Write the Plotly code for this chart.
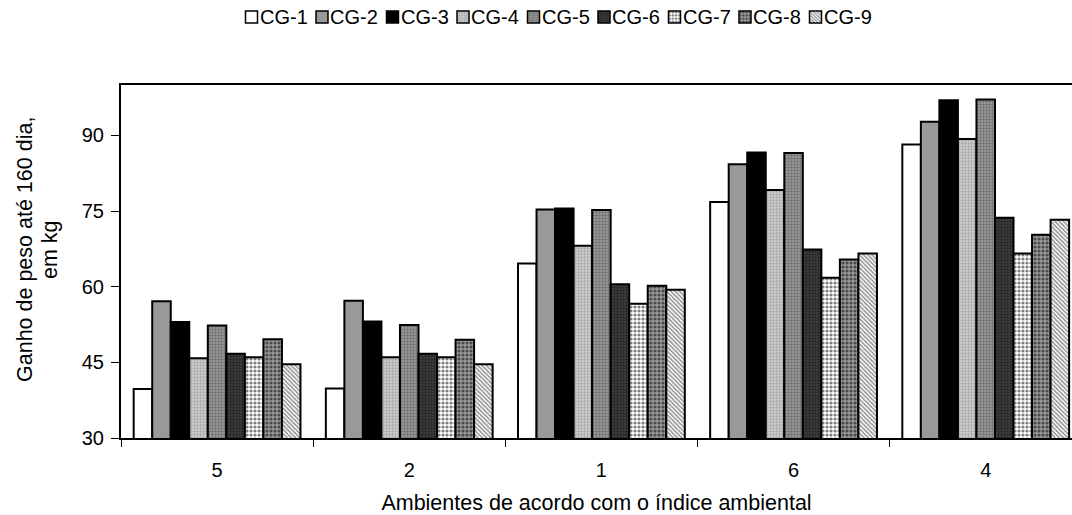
import plotly.graph_objects as go

categories = ["5", "2", "1", "6", "4"]
series_names = ["CG-1", "CG-2", "CG-3", "CG-4", "CG-5", "CG-6", "CG-7", "CG-8", "CG-9"]
cg1 = [39.7, 39.8, 64.6, 76.8, 88.2]
cg2 = [57.1, 57.2, 75.3, 84.3, 92.7]
cg3 = [53.0, 53.1, 75.5, 86.6, 97.0]
cg4 = [45.8, 46.0, 68.1, 79.2, 89.3]
cg5 = [52.3, 52.4, 75.2, 86.5, 97.1]
cg6 = [46.7, 46.7, 60.5, 67.4, 73.7]
cg7 = [46.0, 46.0, 56.6, 61.8, 66.6]
cg8 = [49.6, 49.5, 60.2, 65.4, 70.3]
cg9 = [44.6, 44.6, 59.4, 66.6, 73.3]
values = [cg1, cg2, cg3, cg4, cg5, cg6, cg7, cg8, cg9]
y_ticks = [30, 45, 60, 75, 90]
x_title = "Ambientes de acordo com o índice ambiental"
y_title_lines = ["Ganho de peso até 160 dia,", "em kg"]

styles = [
    dict(color="#ffffff"),
    dict(color="#999999"),
    dict(color="#000000"),
    dict(color="#cccccc", pattern=dict(shape=".", fgcolor="#7a7a7a", bgcolor="#d0d0d0", size=3, solidity=0.45)),
    dict(color="#888888", pattern=dict(shape=".", fgcolor="#404040", bgcolor="#a0a0a0", size=3, solidity=0.5)),
    dict(color="#333333", pattern=dict(shape=".", fgcolor="#0a0a0a", bgcolor="#404040", size=3, solidity=0.5)),
    dict(color="#888888", pattern=dict(shape=".", fgcolor="#000000", bgcolor="#ffffff", size=4, solidity=0.5)),
    dict(color="#555555", pattern=dict(shape=".", fgcolor="#000000", bgcolor="#999999", size=4, solidity=0.5)),
    dict(color="#aaaaaa", pattern=dict(shape="\\", fgcolor="#222222", bgcolor="#ffffff", size=3, solidity=0.5)),
]

# page body margin is removed below, so figure pixels equal window pixels
W, H = 1072, 515
PL, PT, PB = 121, 85, 438
PW, PH = W - PL, PB - PT
legend_symbol_left = 245
legend_pitch = 70.5
legend_text_gap = 13.5
legend_y = 1 + (PT - 17) / PH
FS_TICK, FS_TITLE = 20, 21.5

fig = go.Figure()
for name, vals, st in zip(series_names, values, styles):
    marker = dict(color=st["color"], line=dict(color="#000000", width=2))
    if "pattern" in st:
        marker["pattern"] = st["pattern"]
    fig.add_trace(go.Bar(name=name, x=categories, y=vals, marker=marker, showlegend=False))

# legend swatches (no data) on a hidden axis pair, legend labels as text next to them
annotations = []
for i, (name, st) in enumerate(zip(series_names, styles)):
    marker = dict(color=st["color"], line=dict(color="#000000", width=1.5))
    if "pattern" in st:
        marker["pattern"] = st["pattern"]
    fig.add_trace(go.Bar(name=" ", x=[None], y=[None], marker=marker, xaxis="x2", yaxis="y2",
                         showlegend=True, hoverinfo="skip"))
    tx = legend_symbol_left + legend_pitch * i + legend_text_gap
    annotations.append(dict(text=name, x=(tx - PL) / PW, xref="paper", xanchor="left",
                            y=legend_y, yref="paper", yanchor="middle", showarrow=False,
                            font=dict(size=FS_TICK), borderpad=0))

# y axis title, two lines, rotated
for line, cx in zip(y_title_lines, [25, 50]):
    annotations.append(dict(text=line, textangle=-90, x=(cx - PL) / PW, xref="paper",
                            xanchor="center", y=(PB - 250) / PH, yref="paper", yanchor="middle",
                            showarrow=False, font=dict(size=FS_TITLE)))

fig.update_layout(
    width=W, height=H,
    barmode="group", bargap=0.132, bargroupgap=0,
    plot_bgcolor="white", paper_bgcolor="white",
    font=dict(family="Liberation Sans, Arial, sans-serif", size=FS_TICK, color="#000000"),
    margin=dict(l=PL, r=0, t=PT, b=H - PB, autoexpand=False),
    showlegend=True,
    legend=dict(orientation="h", x=(legend_symbol_left - 13.5) / W, xref="container", xanchor="left",
                y=legend_y, yref="paper", yanchor="middle",
                font=dict(size=1), itemwidth=30, entrywidth=legend_pitch - 45, entrywidthmode="pixels",
                bgcolor="rgba(0,0,0,0)", borderwidth=0),
    annotations=annotations,
    xaxis=dict(
        title=dict(text=x_title, standoff=19, font=dict(size=FS_TITLE)),
        range=[-0.5, 4.449], automargin=False,
        showline=True, linecolor="#000000", linewidth=2, mirror=True,
        ticks="outside", tickson="boundaries", ticklen=7, tickcolor="#000000", tickwidth=1,
        ticklabelstandoff=13,
        showgrid=False,
    ),
    yaxis=dict(
        range=[30, 100], tickvals=y_ticks, automargin=False,
        ticks="outside", ticklen=8, tickcolor="#000000", tickwidth=1,
        ticklabelstandoff=3,
        showline=True, linecolor="#000000", linewidth=2, mirror=False,
        showgrid=False, zeroline=False,
    ),
    xaxis2=dict(visible=False, overlaying="x", range=[0, 1]),
    yaxis2=dict(visible=False, overlaying="y", range=[0, 1]),
)
fig.write_html("out.html", config={"displayModeBar": False},
               post_script="document.body.style.margin='0';document.body.style.overflow='hidden';")
